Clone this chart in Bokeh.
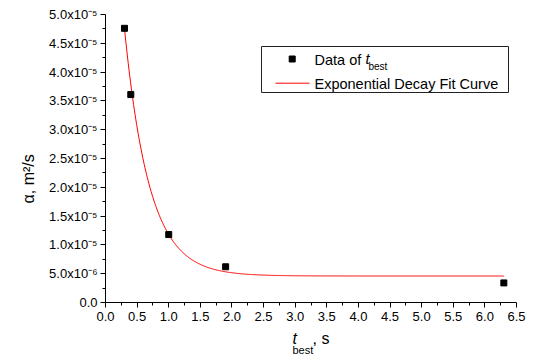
import numpy as np
from bokeh.plotting import figure
from bokeh.models import Range1d, FixedTicker, PrintfTickFormatter, Label, BoxAnnotation, Title
from bokeh.embed import file_html
from bokeh.resources import INLINE

# ---------------- data ----------------
t_best = [0.3, 0.4, 1.0, 1.9, 6.3]                       # s
alpha = [4.76e-5, 3.61e-5, 1.18e-5, 6.2e-6, 3.4e-6]       # m^2/s

# exponential decay fit: alpha = y0 + A * exp(-t / t1)
fit_y0 = 4.6e-6
fit_A = 9.24e-5
fit_t1 = 0.392
fit_t_start = 0.3
fit_t_end = 6.3

x_ticks = [0.0, 0.5, 1.0, 1.5, 2.0, 2.5, 3.0, 3.5, 4.0, 4.5, 5.0, 5.5, 6.0, 6.5]
y_ticks = [0.0, 5e-6, 1.0e-5, 1.5e-5, 2.0e-5, 2.5e-5, 3.0e-5, 3.5e-5, 4.0e-5, 4.5e-5, 5.0e-5]
y_tick_labels = ["0.0", "5.0x10⁻⁶", "1.0x10⁻⁵", "1.5x10⁻⁵", "2.0x10⁻⁵", "2.5x10⁻⁵",
                 "3.0x10⁻⁵", "3.5x10⁻⁵", "4.0x10⁻⁵", "4.5x10⁻⁵", "5.0x10⁻⁵"]

y_title = "α, m²/s"
legend_data_label = "Data of "
legend_fit_label = "Exponential Decay Fit Curve"

# ---------------- layout ----------------
W, H = 535, 360
FRAME_L, FRAME_R, FRAME_T, FRAME_B = 105, 516, 14, 302
X_MIN, X_MAX = 0.0, 6.5
Y_MIN, Y_MAX = 0.0, 5e-5
FONT = "Liberation Sans"


def px2x(px):
    return X_MIN + (px - FRAME_L) / (FRAME_R - FRAME_L) * (X_MAX - X_MIN)


def py2y(py):
    return Y_MIN + (FRAME_B - py) / (FRAME_B - FRAME_T) * (Y_MAX - Y_MIN)


def clabel(px, py, **kw):
    """Text placed in canvas pixels (origin top-left)."""
    kw.setdefault("text_font", FONT)
    kw.setdefault("text_color", "black")
    kw.setdefault("text_baseline", "middle")
    return Label(x=px, y=py, x_units="canvas", y_units="canvas", level="overlay", **kw)


p = figure(width=W, height=H, x_range=Range1d(X_MIN, X_MAX), y_range=Range1d(Y_MIN, Y_MAX),
           output_backend="svg", toolbar_location=None,
           min_border_left=FRAME_L, min_border_right=W - FRAME_R,
           min_border_top=FRAME_T, min_border_bottom=H - FRAME_B)
p.outline_line_color = None
p.grid.visible = False
p.background_fill_color = "white"
p.border_fill_color = "white"

x_minor = list((np.array(x_ticks[:-1]) + np.array(x_ticks[1:])) / 2)
y_minor = list((np.array(y_ticks[:-1]) + np.array(y_ticks[1:])) / 2)

xa = p.xaxis[0]
xa.ticker = FixedTicker(ticks=x_ticks, minor_ticks=x_minor)
xa.formatter = PrintfTickFormatter(format="%.1f")
ya = p.yaxis[0]
ya.ticker = FixedTicker(ticks=y_ticks, minor_ticks=y_minor)
ya.major_label_overrides = dict(zip(y_ticks, y_tick_labels))

for ax in (xa, ya):
    ax.axis_line_color = "black"
    ax.axis_line_width = 1
    ax.major_tick_line_color = "black"
    ax.minor_tick_line_color = "black"
    ax.major_tick_in = 0
    ax.major_tick_out = 5
    ax.minor_tick_in = 0
    ax.minor_tick_out = 3
    ax.major_label_text_font = FONT
    ax.major_label_text_font_size = "13px"
    ax.major_label_text_color = "black"
xa.major_label_standoff = 4
ya.major_label_standoff = 3

# y-axis title (starts ~99 px above the x axis, reads upward)
p.add_layout(Title(text=y_title, align="left", offset=99, text_font=FONT,
                   text_font_size="16px", text_font_style="normal", text_color="black",
                   standoff=20), "left")

# x-axis title: italic t, subscript "best", then ", s"
p.add_layout(clabel(292, 338, text="t", text_align="left",
                    text_font_size="16px", text_font_style="italic"), "left")
p.add_layout(clabel(292, 349, text="best", text_align="left", text_font_size="11px"), "below")
p.add_layout(clabel(312, 338, text=", s", text_align="left", text_font_size="16px"), "right")

# legend frame (underneath the legend glyphs)
p.add_layout(BoxAnnotation(left=px2x(261), right=px2x(508), top=py2y(46), bottom=py2y(92),
                           fill_color="white", fill_alpha=1, line_color="#222222", line_width=1,
                           line_alpha=1, level="underlay"))

# fit curve
tc = np.linspace(fit_t_start, fit_t_end, 500)
ac = fit_y0 + fit_A * np.exp(-tc / fit_t1)
p.line(tc, ac, line_color="#ff0000", line_width=1)

# data points
p.scatter(t_best, alpha, marker="square", size=6, fill_color="black", line_color="black")

# legend entries
p.scatter([px2x(291.7)], [py2y(58.5)], marker="square", size=6, fill_color="black", line_color="black")
p.line([px2x(275), px2x(309)], [py2y(82.7), py2y(82.7)], line_color="#ff0000", line_width=1)
p.add_layout(clabel(314, 59, text=legend_data_label, text_align="left", text_font_size="14.5px"))
p.add_layout(clabel(365, 58, text="t", text_align="left",
                    text_font_size="14.5px", text_font_style="italic"))
p.add_layout(clabel(368, 66, text="best", text_align="left", text_font_size="10px"))
p.add_layout(clabel(314, 83, text=legend_fit_label, text_align="left", text_font_size="14.5px"))

open("out.html", "w").write(file_html(p, INLINE))
